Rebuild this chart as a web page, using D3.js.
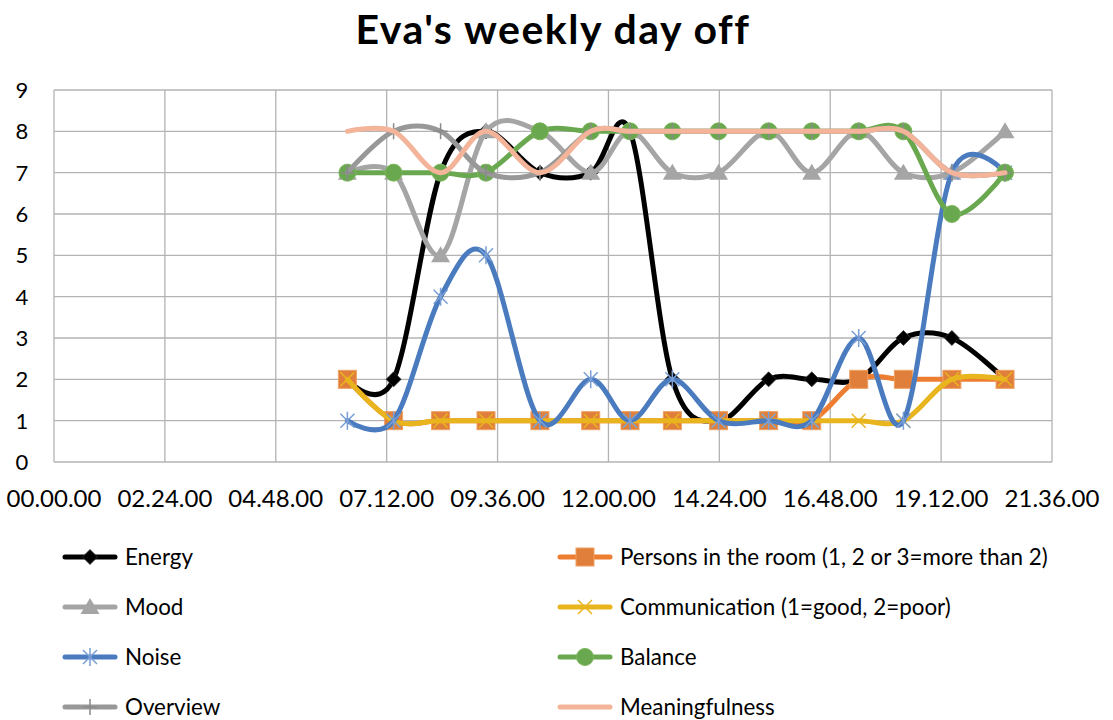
<!DOCTYPE html>
<html><head><meta charset="utf-8">
<script src="https://cdn.jsdelivr.net/npm/d3@7"></script>
<style>body{margin:0;background:#fff}svg{display:block}text{font-family:Lato,"Open Sans",sans-serif;fill:#000}</style>
</head><body><svg id="c" width="1113" height="720"></svg>
<script>
const title = "Eva's weekly day off";
const times = ["06:21","07:21","08:22","09:21","10:31","11:37","12:28","13:23","14:23","15:28","16:24","17:25","18:23","19:26","20:35"];
const energy = [2,2,7,8,7,7,8,2,1,2,2,2,3,3,2];
const persons = [2,1,1,1,1,1,1,1,1,1,1,2,2,2,2];
const mood = [7,7,5,8,8,7,8,7,7,8,7,8,7,7,8];
const communication = [2,1,1,1,1,1,1,1,1,1,1,1,1,2,2];
const noise = [1,1,4,5,1,2,1,2,1,1,1,3,1,7,7];
const balance = [7,7,7,7,8,8,8,8,8,8,8,8,8,6,7];
const overview = [7,8,8,7,7,8,8,8,8,8,8,8,8,7,7];
const meaningfulness = [8,8,7,8,7,8,8,8,8,8,8,8,8,7,7];
const seriesNames = ["Energy","Persons in the room (1, 2 or 3=more than 2)","Mood","Communication (1=good, 2=poor)","Noise","Balance","Overview","Meaningfulness"];
const xTickLabels = ["00.00.00","02.24.00","04.48.00","07.12.00","09.36.00","12.00.00","14.24.00","16.48.00","19.12.00","21.36.00"];
const yTicks = [0,1,2,3,4,5,6,7,8,9];

const seriesValues = [energy, persons, mood, communication, noise, balance, overview, meaningfulness];
const styles = [
  {color:"#000000", marker:"diamond"},
  {color:"#ED7D31", marker:"square"},
  {color:"#A5A5A5", marker:"triangle"},
  {color:"#E9B51E", marker:"x"},
  {color:"#4A7BBF", marker:"asterisk", mcolor:"#7A9FD6"},
  {color:"#6AA84F", marker:"circle"},
  {color:"#989898", marker:"plus", mcolor:"#8A8A8A"},
  {color:"#F4B49A", marker:"none"}
];

const svg = d3.select("#c");
const L = 54, R = 1052, T = 90, B = 462;
const toHours = s => { const [h,m] = s.split(":").map(Number); return h + m/60; };
const x = d3.scaleLinear().domain([0, 21.6]).range([L, R]);
const y = d3.scaleLinear().domain([0, 9]).range([B, T]);

// title
svg.append("text").attr("x", 553).attr("y", 44).attr("text-anchor","middle")
  .style("font-size","41px").style("font-weight","bold").style("letter-spacing","1.5px").text(title);

// grid
const g = svg.append("g");
const xt = d3.range(0, 10).map(i => i*2.4);
g.selectAll("line.v").data(xt).join("line")
  .attr("x1", d=>x(d)).attr("x2", d=>x(d)).attr("y1", T).attr("y2", B)
  .attr("stroke","#B3B3B3").attr("stroke-width",1.3);
g.selectAll("line.h").data(yTicks).join("line")
  .attr("x1", L).attr("x2", R).attr("y1", d=>y(d)).attr("y2", d=>y(d))
  .attr("stroke","#B3B3B3").attr("stroke-width",1.3);

// axis labels
svg.selectAll("text.yl").data(yTicks).join("text")
  .attr("x", 22).attr("y", d=>y(d)).attr("dy","0.36em").attr("text-anchor","middle")
  .style("font-size","22px").text(d=>d);
svg.selectAll("text.xl").data(xt).join("text")
  .attr("x", d=>x(d)).attr("y", 507).attr("text-anchor","middle")
  .style("font-size","24px").text((d,i)=>xTickLabels[i]);

// lines
const line = d3.line().x(d=>x(d[0])).y(d=>y(d[1])).curve(d3.curveCatmullRom.alpha(0));

function drawMarker(sel, type, color, mcolor, cx, cy) {
  const mc = mcolor || color;
  const gg = sel.append("g").attr("transform", `translate(${cx},${cy})`);
  if (type === "diamond") {
    gg.append("path").attr("d","M0,-7.5L7.5,0L0,7.5L-7.5,0Z").attr("fill", color).attr("stroke","#333").attr("stroke-width",0.8);
  } else if (type === "square") {
    gg.append("rect").attr("x",-9).attr("y",-9).attr("width",18).attr("height",18).attr("fill", "#E07F3C").attr("stroke","#F0A060").attr("stroke-width",1);
  } else if (type === "triangle") {
    gg.append("path").attr("d","M0,-9L9.5,7L-9.5,7Z").attr("fill", color);
  } else if (type === "circle") {
    gg.append("circle").attr("r",8.5).attr("fill", color).attr("stroke","#7CB65C").attr("stroke-width",1);
  } else if (type === "x") {
    gg.append("path").attr("d","M-7,-7L7,7M7,-7L-7,7").attr("stroke", mc).attr("stroke-width",1.5);
  } else if (type === "asterisk") {
    gg.append("path").attr("d","M-7,-7L7,7M7,-7L-7,7M0,-9L0,9").attr("stroke", mc).attr("stroke-width",1.5);
  } else if (type === "plus") {
    gg.append("path").attr("d","M-7,0L7,0M0,-8L0,8").attr("stroke", mc).attr("stroke-width",1.5);
  }
}

const plot = svg.append("g");
seriesValues.forEach((vals, si) => {
  const st = styles[si];
  const pts = vals.map((v,i) => [toHours(times[i]), v]);
  const sg = plot.append("g");
  sg.append("path").attr("d", line(pts)).attr("fill","none")
    .attr("stroke", st.color).attr("stroke-width",5).attr("stroke-linecap","round").attr("stroke-linejoin","round");
  if (st.marker !== "none") pts.forEach(p => drawMarker(sg, st.marker, st.color, st.mcolor, x(p[0]), y(p[1])));
});

// legend
const leg = svg.append("g");
seriesNames.forEach((name, i) => {
  const col = i % 2, row = Math.floor(i/2);
  const lx = col === 0 ? 65 : 560;
  const ly = 557 + row*50;
  const st = styles[i];
  leg.append("line").attr("x1", lx).attr("x2", lx+50).attr("y1", ly).attr("y2", ly)
    .attr("stroke", st.color).attr("stroke-width",5).attr("stroke-linecap","round");
  if (st.marker !== "none") drawMarker(leg, st.marker, st.color, st.mcolor, lx+25, ly);
  leg.append("text").attr("x", lx+60).attr("y", ly).attr("dy","0.35em")
    .style("font-size","22.4px").text(name);
});
</script></body></html>
